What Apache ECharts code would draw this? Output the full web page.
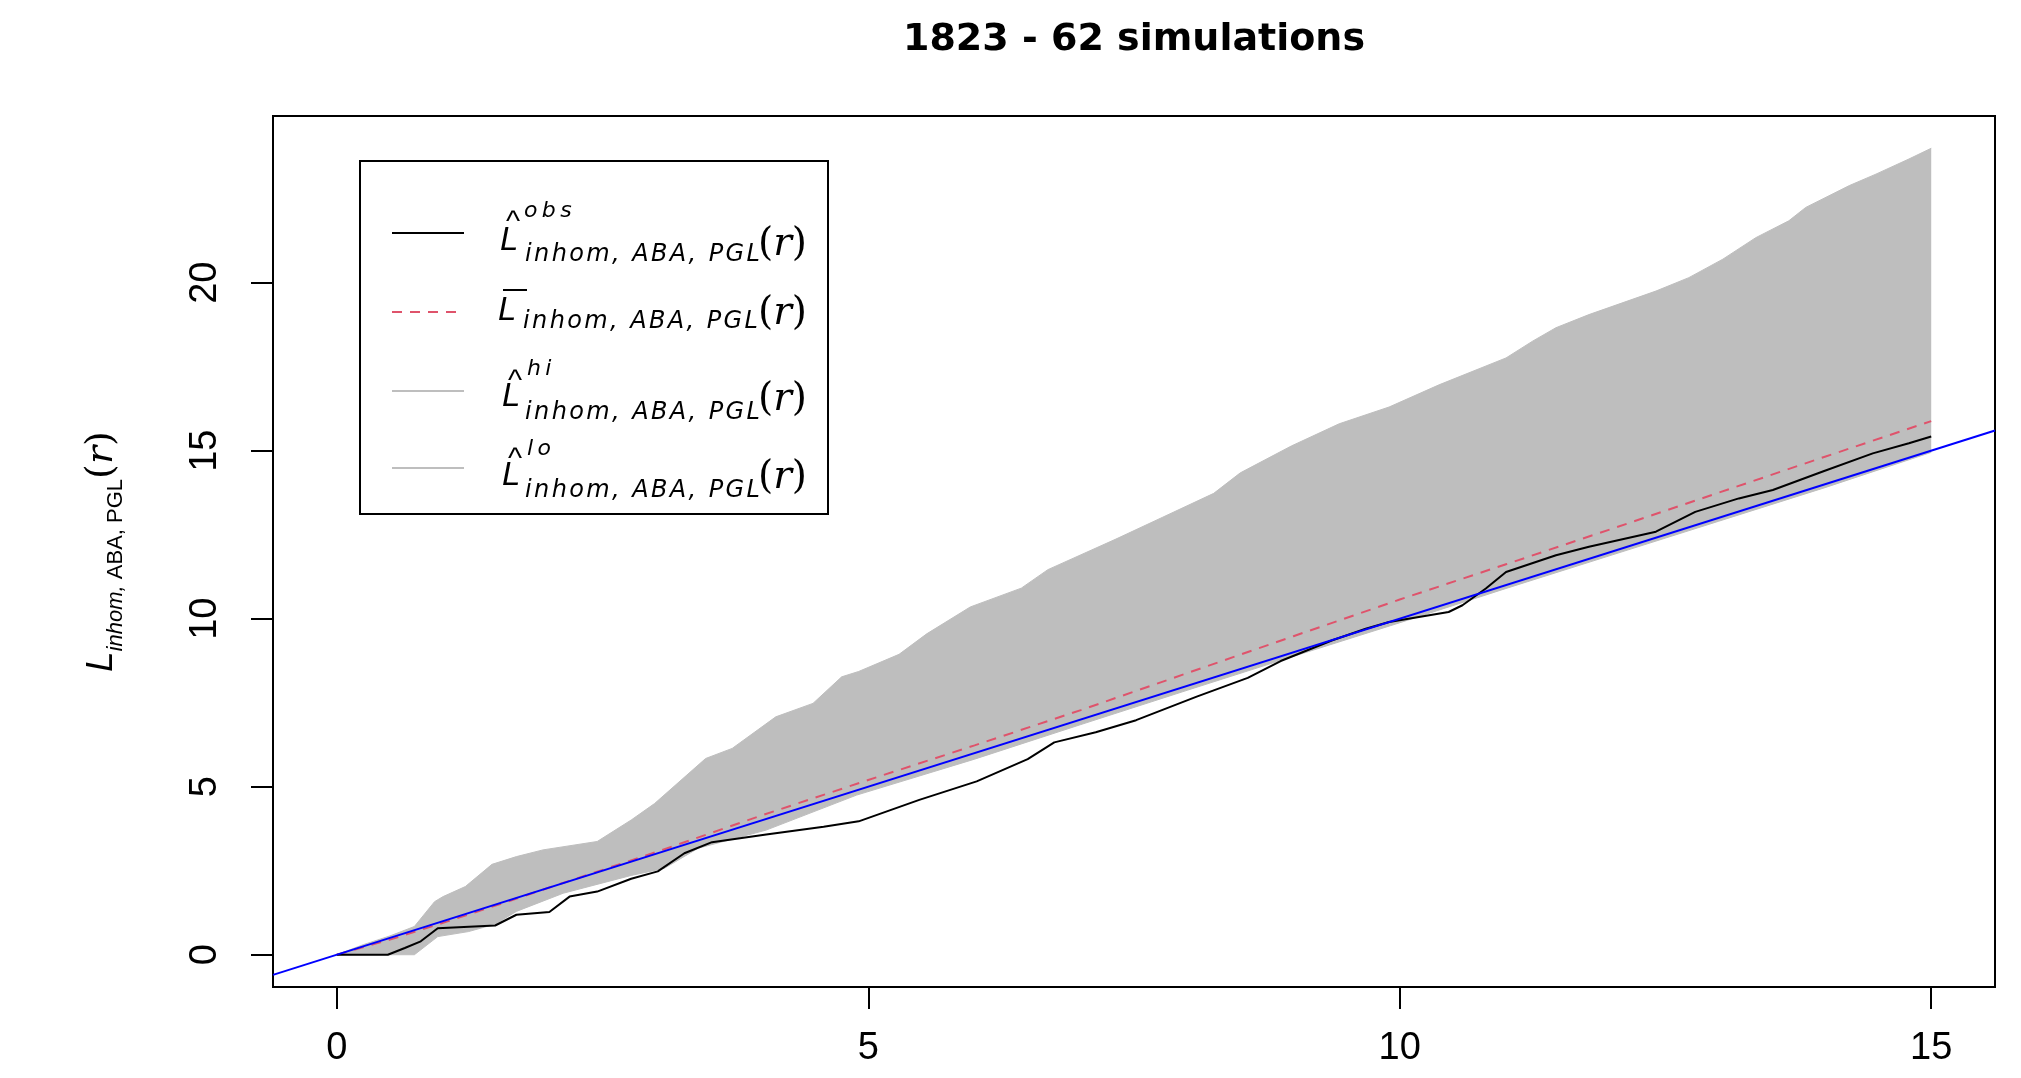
<!DOCTYPE html>
<html>
<head>
<meta charset="utf-8">
<title>1823 - 62 simulations</title>
<script src="https://cdn.jsdelivr.net/npm/echarts@6.0.0/dist/echarts.min.js"></script>
<style>
html,body{margin:0;padding:0;background:#fff;}
#chart{width:2021px;height:1078px;}
</style>
</head>
<body>
<div id="chart"></div>
<script>
// simulation envelope (r = distance)
const rHi = [0, 0.25, 0.5, 0.73, 0.92, 1.0, 1.21, 1.46, 1.69, 1.94, 2.45, 2.77, 2.99, 3.47, 3.72, 4.13, 4.48, 4.75, 4.91, 5.29, 5.55, 5.96, 6.44, 6.69, 7.33, 7.77, 8.25, 8.5, 8.98, 9.43, 9.9, 10.37, 11.0, 11.25, 11.47, 11.78, 12.41, 12.72, 13.04, 13.35, 13.66, 13.82, 14.23, 14.48, 14.79, 15];
const hiVals = [0, 0.3, 0.56, 0.84, 1.58, 1.73, 2.03, 2.69, 2.92, 3.12, 3.37, 4.01, 4.5, 5.84, 6.14, 7.08, 7.48, 8.27, 8.43, 8.94, 9.55, 10.35, 10.91, 11.46, 12.37, 13.02, 13.73, 14.34, 15.14, 15.8, 16.3, 16.96, 17.76, 18.26, 18.66, 19.05, 19.75, 20.15, 20.7, 21.34, 21.84, 22.24, 22.89, 23.23, 23.68, 24.0];

const rLo = [0, 0.73, 0.95, 1.24, 1.49, 1.69, 2.13, 2.77, 3.08, 3.4, 4.04, 4.89, 6, 7, 8, 9, 10, 11, 12, 13, 14, 15];
const loVals = [0, 0, 0.54, 0.69, 0.91, 1.29, 1.83, 2.36, 2.57, 3.17, 3.71, 4.75, 5.82, 6.85, 7.87, 8.88, 9.88, 10.9, 11.9, 12.9, 13.9, 14.95];

// observed L
const rObs = [0, 0.48, 0.64, 0.79, 0.95, 1.49, 1.69, 2.0, 2.19, 2.45, 2.77, 3.02, 3.27, 3.53, 4.04, 4.58, 4.91, 5.48, 6.02, 6.5, 6.75, 7.14, 7.52, 8.09, 8.57, 8.88, 9.36, 9.68, 9.9, 10.46, 10.59, 10.81, 11.0, 11.47, 11.78, 12.41, 12.78, 13.19, 13.51, 13.98, 14.45, 14.79, 15];
const obsVals = [0, 0, 0.2, 0.4, 0.79, 0.87, 1.19, 1.27, 1.73, 1.88, 2.26, 2.48, 3.02, 3.35, 3.58, 3.81, 3.97, 4.61, 5.16, 5.82, 6.32, 6.62, 6.98, 7.68, 8.24, 8.74, 9.35, 9.7, 9.9, 10.2, 10.4, 10.9, 11.39, 11.89, 12.14, 12.59, 13.18, 13.58, 13.83, 14.38, 14.92, 15.22, 15.42];

// mean of simulations
const rMean = [0, 0.5, 1, 1.5, 2, 3, 4, 5, 6, 7, 8, 9, 10, 11, 12, 13, 14, 15];
const meanVals = [0, 0.45, 0.95, 1.47, 2.0, 3.05, 4.15, 5.2, 6.23, 7.28, 8.38, 9.48, 10.57, 11.62, 12.68, 13.75, 14.82, 15.88];

// theoretical L(r) = r, across the whole plot
const theoR = [-0.6, 15.6];
const theoL = [-0.6, 15.6];

const xTicks = [0, 5, 10, 15];
const yTicks = [0, 5, 10, 15, 20];

const SANS = '"Liberation Sans", Arial, sans-serif';
const DJ = '"DejaVu Sans", sans-serif';
const SERIF = '"DejaVu Serif", serif';

const pairs = (xs, ys) => xs.map((x, i) => [x, ys[i]]);
// R draws these subscripts letter-spaced
const spaced = (s, gap) => s.split('').join(gap);

function txt(x, y, text, size, family, italic) {
    return {
        type: 'text', x: x, y: y, silent: true,
        style: {
            text: text, fill: '#000', fontSize: size, fontFamily: family,
            fontStyle: italic ? 'italic' : 'normal',
            align: 'left', verticalAlign: 'middle'
        }
    };
}

function legendEntry(e) {
    const out = [{
        type: 'line', silent: true,
        shape: { x1: 392, y1: e.lineY, x2: 464, y2: e.lineY },
        style: { stroke: e.color, lineWidth: 2, lineDash: e.dash || null }
    }];
    if (e.sup) {
        out.push(txt(e.hatX, e.hatY, '^', 30, SANS, false));
        out.push(txt(e.supX, e.supY, spaced(e.sup, '\u2009'), 22, DJ, true));
    } else {
        out.push({
            type: 'line', silent: true,
            shape: { x1: 503, y1: e.barY, x2: 527, y2: e.barY },
            style: { stroke: '#000', lineWidth: 2 }
        });
    }
    out.push(txt(e.lX, e.lY, 'L', 33, SANS, true));
    out.push(txt(e.subX, e.subY, spaced('inhom, ABA, PGL', '\u200A'), 24, DJ, true));
    out.push({
        type: 'text', x: 758, y: e.rY, silent: true,
        style: {
            text: '{p|(}{i|r}{p|)}', align: 'left', verticalAlign: 'middle',
            rich: {
                p: { fontSize: 39, fontFamily: SERIF, fill: '#000' },
                i: { fontSize: 39, fontFamily: SERIF, fontStyle: 'italic', fill: '#000' }
            }
        }
    });
    return out;
}

const legendItems = [
    { lineY: 233, color: '#000', sup: 'obs', hatX: 506, hatY: 223, supX: 524, supY: 211, lX: 500, lY: 241, subX: 525, subY: 255, rY: 245 },
    { lineY: 312, color: '#DF536B', dash: [10, 8], barY: 290, lX: 498, lY: 311, subX: 523, subY: 322, rY: 314 },
    { lineY: 391, color: '#BEBEBE', sup: 'hi', hatX: 508, hatY: 382, supX: 527, supY: 369, lX: 502, lY: 397, subX: 525, subY: 413, rY: 400 },
    { lineY: 468, color: '#BEBEBE', sup: 'lo', hatX: 508, hatY: 460, supX: 527, supY: 449, lX: 502, lY: 476, subX: 525, subY: 491, rY: 478 }
];

let legendGraphic = [{
    type: 'rect', silent: true,
    shape: { x: 360, y: 161, width: 468, height: 353 },
    style: { fill: '#fff', stroke: '#000', lineWidth: 2 }
}];
legendItems.forEach(e => { legendGraphic = legendGraphic.concat(legendEntry(e)); });

const chart = echarts.init(document.getElementById('chart'), null, { renderer: 'canvas' });

chart.setOption({
    animation: false,
    backgroundColor: '#fff',
    title: {
        text: '1823 - 62 simulations',
        left: 1134, top: 21, textAlign: 'center', padding: 0,
        textStyle: { fontFamily: DJ, fontWeight: 'bold', fontSize: 38, color: '#000' }
    },
    grid: {
        left: 273, right: 26, top: 116, bottom: 91,
        show: true, borderColor: '#000', borderWidth: 2,
        containLabel: false, outerBoundsMode: 'none'
    },
    xAxis: {
        type: 'value', min: -0.6, max: 15.6,
        splitLine: { show: false },
        axisLine: { show: false, onZero: false },
        axisTick: { show: true, length: 22, lineStyle: { color: '#000', width: 2 }, customValues: xTicks },
        axisLabel: { customValues: xTicks, margin: 43, fontSize: 38, fontFamily: SANS, color: '#000' }
    },
    yAxis: {
        type: 'value', min: -0.96, max: 24.96,
        splitLine: { show: false },
        axisLine: { show: false, onZero: false },
        axisTick: { show: true, length: 22, lineStyle: { color: '#000', width: 2 }, customValues: yTicks },
        axisLabel: { customValues: yTicks, rotate: 90, margin: 48, fontSize: 38, fontFamily: SANS, color: '#000' },
        name: '{L|L}{si|inhom,}{s| ABA, PGL}{p|(}{r|r}{p|)}',
        nameLocation: 'middle', nameRotate: 90, nameGap: 146,
        nameTextStyle: {
            color: '#000',
            rich: {
                L: { fontSize: 37, fontFamily: SANS, fontStyle: 'italic', lineHeight: 40, verticalAlign: 'top', padding: [0, 0, 4, 0] },
                si: { fontSize: 22, fontFamily: SANS, fontStyle: 'italic', lineHeight: 24, verticalAlign: 'bottom' },
                s: { fontSize: 22, fontFamily: SANS, lineHeight: 24, verticalAlign: 'bottom' },
                p: { fontSize: 38, fontFamily: SERIF, lineHeight: 44, verticalAlign: 'top' },
                r: { fontSize: 38, fontFamily: SERIF, fontStyle: 'italic', lineHeight: 44, verticalAlign: 'top' }
            }
        }
    },
    graphic: legendGraphic,
    series: [
        {
            // shaded envelope between lo and hi
            name: 'band', type: 'custom', silent: true, clip: true,
            data: [[rHi[0], hiVals[0]]],
            renderItem(params, api) {
                const pts = rHi.map((r, i) => api.coord([r, hiVals[i]]));
                for (let i = rLo.length - 1; i >= 0; i--) {
                    pts.push(api.coord([rLo[i], loVals[i]]));
                }
                return { type: 'polygon', shape: { points: pts }, style: { fill: '#BEBEBE' } };
            }
        },
        {
            name: 'hi', type: 'line', data: pairs(rHi, hiVals), symbol: 'none',
            lineStyle: { color: '#BEBEBE', width: 1 }
        },
        {
            name: 'lo', type: 'line', data: pairs(rLo, loVals), symbol: 'none',
            lineStyle: { color: '#BEBEBE', width: 1 }
        },
        {
            name: 'mean', type: 'line', data: pairs(rMean, meanVals), symbol: 'none',
            lineStyle: { color: '#DF536B', width: 2, type: [10, 8] }
        },
        {
            name: 'obs', type: 'line', data: pairs(rObs, obsVals), symbol: 'none',
            lineStyle: { color: '#000', width: 2 }
        },
        {
            name: 'theo', type: 'line', data: pairs(theoR, theoL), symbol: 'none',
            lineStyle: { color: '#0000FF', width: 2 }
        }
    ]
});
</script>
</body>
</html>
